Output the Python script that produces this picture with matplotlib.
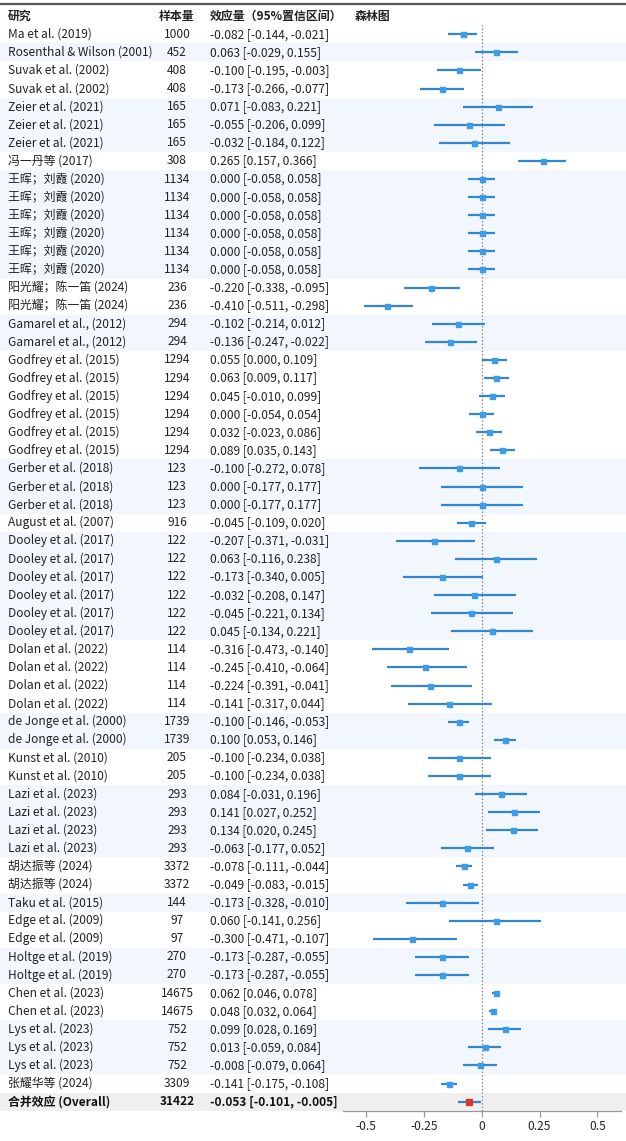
import matplotlib
matplotlib.use("Agg")
import matplotlib.pyplot as plt
import matplotlib.transforms as mtransforms
from matplotlib.patches import Rectangle

plt.rcParams['font.family'] = ['Noto Sans CJK SC', 'DejaVu Sans']

# ---- data ----
studies = [
    "Ma et al. (2019)", "Rosenthal & Wilson (2001)",
    "Suvak et al. (2002)", "Suvak et al. (2002)",
    "Zeier et al. (2021)", "Zeier et al. (2021)", "Zeier et al. (2021)",
    "冯一丹等 (2017)",
    "王晖；刘霞 (2020)", "王晖；刘霞 (2020)", "王晖；刘霞 (2020)",
    "王晖；刘霞 (2020)", "王晖；刘霞 (2020)", "王晖；刘霞 (2020)",
    "阳光耀；陈一笛 (2024)", "阳光耀；陈一笛 (2024)",
    "Gamarel et al., (2012)", "Gamarel et al., (2012)",
    "Godfrey et al. (2015)", "Godfrey et al. (2015)", "Godfrey et al. (2015)",
    "Godfrey et al. (2015)", "Godfrey et al. (2015)", "Godfrey et al. (2015)",
    "Gerber et al. (2018)", "Gerber et al. (2018)", "Gerber et al. (2018)",
    "August et al. (2007)",
    "Dooley et al. (2017)", "Dooley et al. (2017)", "Dooley et al. (2017)",
    "Dooley et al. (2017)", "Dooley et al. (2017)", "Dooley et al. (2017)",
    "Dolan et al. (2022)", "Dolan et al. (2022)", "Dolan et al. (2022)",
    "Dolan et al. (2022)",
    "de Jonge et al. (2000)", "de Jonge et al. (2000)",
    "Kunst et al. (2010)", "Kunst et al. (2010)",
    "Lazi et al. (2023)", "Lazi et al. (2023)", "Lazi et al. (2023)",
    "Lazi et al. (2023)",
    "胡达振等 (2024)", "胡达振等 (2024)",
    "Taku et al. (2015)",
    "Edge et al. (2009)", "Edge et al. (2009)",
    "Holtge et al. (2019)", "Holtge et al. (2019)",
    "Chen et al. (2023)", "Chen et al. (2023)",
    "Lys et al. (2023)", "Lys et al. (2023)", "Lys et al. (2023)",
    "张耀华等 (2024)",
]
sample_n = [
    1000, 452, 408, 408, 165, 165, 165, 308,
    1134, 1134, 1134, 1134, 1134, 1134, 236, 236, 294, 294,
    1294, 1294, 1294, 1294, 1294, 1294, 123, 123, 123, 916,
    122, 122, 122, 122, 122, 122, 114, 114, 114, 114,
    1739, 1739, 205, 205, 293, 293, 293, 293, 3372, 3372,
    144, 97, 97, 270, 270, 14675, 14675, 752, 752, 752, 3309,
]
effect = [
    -0.082, 0.063, -0.100, -0.173, 0.071, -0.055, -0.032, 0.265,
    0.000, 0.000, 0.000, 0.000, 0.000, 0.000, -0.220, -0.410, -0.102, -0.136,
    0.055, 0.063, 0.045, 0.000, 0.032, 0.089, -0.100, 0.000, 0.000, -0.045,
    -0.207, 0.063, -0.173, -0.032, -0.045, 0.045, -0.316, -0.245, -0.224, -0.141,
    -0.100, 0.100, -0.100, -0.100, 0.084, 0.141, 0.134, -0.063, -0.078, -0.049,
    -0.173, 0.060, -0.300, -0.173, -0.173, 0.062, 0.048, 0.099, 0.013, -0.008,
    -0.141,
]
ci_low = [
    -0.144, -0.029, -0.195, -0.266, -0.083, -0.206, -0.184, 0.157,
    -0.058, -0.058, -0.058, -0.058, -0.058, -0.058, -0.338, -0.511, -0.214, -0.247,
    0.000, 0.009, -0.010, -0.054, -0.023, 0.035, -0.272, -0.177, -0.177, -0.109,
    -0.371, -0.116, -0.340, -0.208, -0.221, -0.134, -0.473, -0.410, -0.391, -0.317,
    -0.146, 0.053, -0.234, -0.234, -0.031, 0.027, 0.020, -0.177, -0.111, -0.083,
    -0.328, -0.141, -0.471, -0.287, -0.287, 0.046, 0.032, 0.028, -0.059, -0.079,
    -0.175,
]
ci_high = [
    -0.021, 0.155, -0.003, -0.077, 0.221, 0.099, 0.122, 0.366,
    0.058, 0.058, 0.058, 0.058, 0.058, 0.058, -0.095, -0.298, 0.012, -0.022,
    0.109, 0.117, 0.099, 0.054, 0.086, 0.143, 0.078, 0.177, 0.177, 0.020,
    -0.031, 0.238, 0.005, 0.147, 0.134, 0.221, -0.140, -0.064, -0.041, 0.044,
    -0.053, 0.146, 0.038, 0.038, 0.196, 0.252, 0.245, 0.052, -0.044, -0.015,
    -0.010, 0.256, -0.107, -0.055, -0.055, 0.078, 0.064, 0.169, 0.084, 0.064,
    -0.108,
]
overall_label = "合并效应 (Overall)"
overall_n = 31422
overall_es, overall_lo, overall_hi = -0.053, -0.101, -0.005

headers = ["研究", "样本量", "效应量（95%置信区间）", "森林图"]
xticks = [-0.5, -0.25, 0, 0.25, 0.5]
xtick_labels = ["-0.5", "-0.25", "0", "0.25", "0.5"]

# ---- layout ----
W, H = 626, 1141
fig = plt.figure(figsize=(W / 100, H / 100), dpi=100)

row_h = 18.09
first_row_y = 34.3
n_rows = len(studies) + 1
ax_top_px = first_row_y - row_h / 2
ax_bot_px = first_row_y + (n_rows - 0.5) * row_h
left_px, right_px = 343, 620.5
ax = fig.add_axes([left_px / W, 1 - ax_bot_px / H,
                   (right_px - left_px) / W, (ax_bot_px - ax_top_px) / H])
ax.set_facecolor('none')
ax.set_xlim(-0.6, 0.6)
ax.set_ylim(n_rows - 0.5, -0.5)

trans = mtransforms.blended_transform_factory(fig.transFigure, ax.transData)

BAND = '#f2f7fd'
GRAY = '#efefef'
LINE_C = '#3486cc'
MARK_C = '#3d9be9'
fs = 8.6

# alternating shading per study group
group = 0
for i, name in enumerate(studies):
    if i > 0 and name != studies[i - 1]:
        group += 1
    if group % 2 == 1:
        ax.add_patch(Rectangle((0, i - 0.5), 1, 1, transform=trans,
                               facecolor=BAND, edgecolor='none',
                               zorder=0, clip_on=False))
ov = len(studies)
ax.add_patch(Rectangle((0, ov - 0.5), 1, 1, transform=trans,
                       facecolor=GRAY, edgecolor='none', zorder=0, clip_on=False))

# top rule
ax.plot([0, 1], [-1.68, -1.68], transform=trans, color='#555555',
        lw=1.6, clip_on=False, zorder=3)

# header
col_x = [8 / W, 177 / W, 210 / W, 355 / W]
col_ha = ['left', 'center', 'left', 'left']
for x, ha, h in zip(col_x, col_ha, headers):
    ax.text(x, -1.0, h, transform=trans, ha=ha, va='center',
            fontsize=fs, fontweight='bold', color='#222222')

# table rows
for i in range(len(studies)):
    ax.text(col_x[0], i, studies[i], transform=trans, ha='left', va='center',
            fontsize=fs, color='#222222')
    ax.text(col_x[1], i, str(sample_n[i]), transform=trans, ha='center',
            va='center', fontsize=fs, color='#222222')
    ax.text(col_x[2], i, f"{effect[i]:.3f} [{ci_low[i]:.3f}, {ci_high[i]:.3f}]",
            transform=trans, ha='left', va='center', fontsize=fs, color='#222222')

ax.text(col_x[0], ov, overall_label, transform=trans, ha='left', va='center',
        fontsize=fs, fontweight='bold', color='#111111')
ax.text(col_x[1], ov, str(overall_n), transform=trans, ha='center', va='center',
        fontsize=fs, fontweight='bold', color='#111111')
ax.text(col_x[2], ov, f"{overall_es:.3f} [{overall_lo:.3f}, {overall_hi:.3f}]",
        transform=trans, ha='left', va='center', fontsize=fs,
        fontweight='bold', color='#111111')

# forest plot
ax.axvline(0, color='#888888', lw=0.9, ls=(0, (1.2, 1.6)), zorder=1)
rows = list(range(len(studies)))
ax.hlines(rows, ci_low, ci_high, color=LINE_C, lw=1.6, zorder=2)
ax.plot(effect, rows, 's', color=MARK_C, ms=3.6, zorder=3)
ax.hlines([ov], [overall_lo], [overall_hi], color=LINE_C, lw=1.6, zorder=2)
ax.plot([overall_es], [ov], 's', color='#d63a2a', ms=3.8, zorder=3)

for s in ['top', 'left', 'right']:
    ax.spines[s].set_visible(False)
ax.spines['bottom'].set_color('#999999')
ax.spines['bottom'].set_linewidth(0.9)
ax.set_yticks([])
ax.set_xticks(xticks)
ax.set_xticklabels(xtick_labels)
ax.tick_params(axis='x', length=4, width=0.9, color='#999999',
               labelsize=fs, labelcolor='#222222', pad=3)

fig.savefig('out.png', dpi=100)
